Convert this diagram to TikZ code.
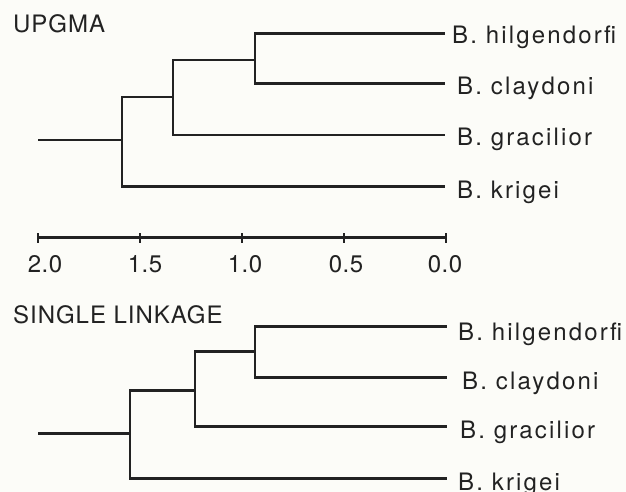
\documentclass[tikz,border=0pt]{standalone}
\usepackage{fontspec}
\setmainfont{TeX Gyre Heros}
\newfontfamily\labfont[LetterSpace=9]{TeX Gyre Heros}
\newfontfamily\titfont[LetterSpace=4]{TeX Gyre Heros}
\newfontfamily\numfont[LetterSpace=2]{TeX Gyre Heros}
\definecolor{ink}{RGB}{34,34,34}
\definecolor{paper}{RGB}{252,252,248}
\begin{document}
\begin{tikzpicture}[x=1pt,y=-1pt,
  branch/.style={draw=ink,line width=2.7pt,line join=miter},
  axisline/.style={draw=ink,line width=2.3pt},
  leaflabel/.style={anchor=base west,inner sep=0pt,text=ink,font=\labfont\fontsize{24}{28}\selectfont},
  title/.style={anchor=base west,inner sep=0pt,text=ink,font=\titfont\fontsize{24}{28}\selectfont},
  ticklabel/.style={anchor=base,inner sep=0pt,text=ink,font=\numfont\fontsize{24}{28}\selectfont}]
\fill[paper] (0,0) rectangle (626,492);
\useasboundingbox (0,0) rectangle (626,492);
% ---------- UPGMA ----------
\node[title] (tup) at (13,33) {UPGMA};
\coordinate (a0) at (38,140);
\coordinate (a1) at (122,140);
\coordinate (a2) at (173,97);
\coordinate (a3) at (255,60);
\coordinate (ah) at (445,33.3);
\coordinate (ac) at (445,83.3);
\coordinate (ag) at (445,135);
\coordinate (ak) at (445,186.7);
\draw[branch] (a0) -- (a1);
\draw[branch] (a1) |- (a2);
\draw[branch] (a1) |- (ak);
\draw[branch] (a2) |- (a3);
\draw[branch] (a2) |- (ag);
\draw[branch] (a3) |- (ah);
\draw[branch] (a3) |- (ac);
\node[leaflabel] (lah) at (452,44) {B. hilgendorfi};
\node[leaflabel] (lac) at (457,95) {B. claydoni};
\node[leaflabel] (lag) at (457,146) {B. gracilior};
\node[leaflabel] (lak) at (457,198) {B. krigei};
% ---------- axis ----------
\coordinate (t0) at (38,237.5);
\coordinate (t1) at (140,237.5);
\coordinate (t2) at (242,237.5);
\coordinate (t3) at (344,237.5);
\coordinate (t4) at (446,237.5);
\draw[axisline] (t0) -- (t4);
\foreach \t in {t0,t1,t2,t3,t4}{
  \draw[axisline] ([yshift=-5pt]\t) -- ([yshift=5pt]\t);
}
\node[ticklabel] (n0) at (45,272) {2.0};
\node[ticklabel] (n1) at (145,272) {1.5};
\node[ticklabel] (n2) at (245,272) {1.0};
\node[ticklabel] (n3) at (346,272) {0.5};
\node[ticklabel] (n4) at (445,272) {0.0};
% ---------- SINGLE LINKAGE ----------
\node[title] (tsl) at (13,323) {SINGLE LINKAGE};
\coordinate (b0) at (38,433.3);
\coordinate (b1) at (130,433.3);
\coordinate (b2) at (195,390.7);
\coordinate (b3) at (255,351.7);
\coordinate (bh) at (447,326.7);
\coordinate (bc) at (447,377.3);
\coordinate (bg) at (447,426.7);
\coordinate (bk) at (447,478.3);
\draw[branch] (b0) -- (b1);
\draw[branch] (b1) |- (b2);
\draw[branch] (b1) |- (bk);
\draw[branch] (b2) |- (b3);
\draw[branch] (b2) |- (bg);
\draw[branch] (b3) |- (bh);
\draw[branch] (b3) |- (bc);
\node[leaflabel] (lbh) at (458,340) {B. hilgendorfi};
\node[leaflabel] (lbc) at (462,389) {B. claydoni};
\node[leaflabel] (lbg) at (460,438) {B. gracilior};
\node[leaflabel] (lbk) at (458,490) {B. krigei};
\end{tikzpicture}
\end{document}
